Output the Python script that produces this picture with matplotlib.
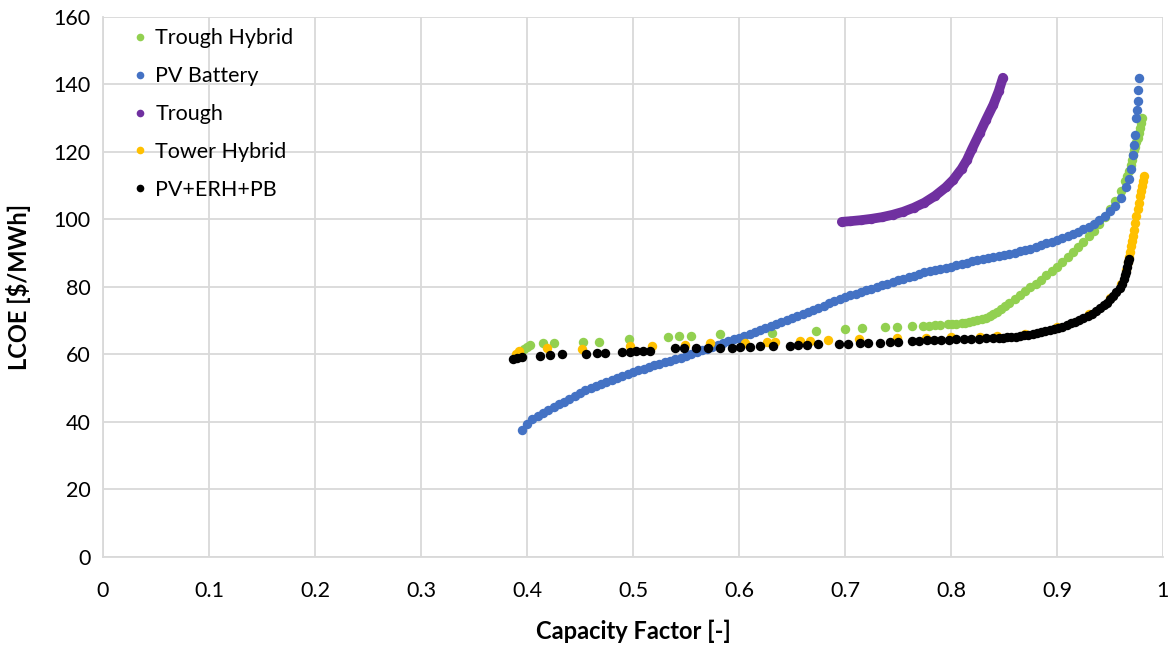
import matplotlib
matplotlib.use("Agg")
from matplotlib import pyplot as plt
from matplotlib.lines import Line2D

# values (capacity factor, LCOE $/MWh)
green_x = [0.393, 0.397, 0.400, 0.403, 0.415, 0.425, 0.453, 0.468, 0.496, 0.533,
           0.543, 0.555, 0.582, 0.631, 0.673, 0.700, 0.716, 0.738, 0.749, 0.763,
           0.774, 0.779, 0.785, 0.790, 0.797, 0.801, 0.805, 0.810, 0.813, 0.817,
           0.821, 0.825, 0.829, 0.833, 0.837, 0.840, 0.843, 0.847, 0.851, 0.855,
           0.860, 0.865, 0.870, 0.875, 0.880, 0.885, 0.890, 0.895, 0.900, 0.905,
           0.910, 0.915, 0.920, 0.925, 0.930, 0.935, 0.940, 0.945, 0.950, 0.955,
           0.960, 0.964, 0.966, 0.968, 0.970, 0.971, 0.972, 0.973, 0.974, 0.975,
           0.976, 0.977, 0.978, 0.979, 0.980]
green_y = [60.8, 61.5, 62.3, 62.9, 63.3, 63.3, 63.6, 63.8, 64.5, 65.3,
           65.5, 65.5, 66.1, 66.5, 67.0, 67.5, 67.7, 68.1, 68.1, 68.3,
           68.4, 68.5, 68.6, 68.7, 68.9, 69.0, 69.1, 69.2, 69.4, 69.6,
           69.8, 70.1, 70.4, 70.8, 71.4, 72.0, 72.7, 73.5, 74.3, 75.2,
           76.3, 77.5, 78.7, 79.9, 81.0, 82.2, 83.5, 84.8, 86.0, 87.5,
           89.0, 90.4, 91.8, 93.4, 95.0, 96.7, 98.6, 100.6, 103.0, 105.5,
           108.5, 111.5, 113.0, 114.5, 116.0, 117.5, 119.0, 120.5, 121.5, 123.0,
           124.0, 125.5, 127.0, 128.5, 130.0]

blue_x = [0.395, 0.400, 0.405, 0.410, 0.415, 0.420, 0.425, 0.430, 0.435, 0.440,
          0.445, 0.450, 0.455, 0.460, 0.465, 0.470, 0.475, 0.480, 0.485, 0.490,
          0.495, 0.500, 0.505, 0.510, 0.515, 0.520, 0.525, 0.530, 0.535, 0.540,
          0.545, 0.550, 0.555, 0.560, 0.565, 0.570, 0.575, 0.580, 0.585, 0.590,
          0.595, 0.600, 0.605, 0.610, 0.615, 0.620, 0.625, 0.630, 0.635, 0.640,
          0.645, 0.650, 0.655, 0.660, 0.665, 0.670, 0.675, 0.680, 0.685, 0.690,
          0.695, 0.700, 0.705, 0.710, 0.715, 0.720, 0.725, 0.730, 0.735, 0.740,
          0.745, 0.750, 0.755, 0.760, 0.765, 0.770, 0.775, 0.780, 0.785, 0.790,
          0.795, 0.800, 0.805, 0.810, 0.815, 0.820, 0.825, 0.830, 0.835, 0.840,
          0.845, 0.850, 0.855, 0.860, 0.865, 0.870, 0.875, 0.880, 0.885, 0.890,
          0.895, 0.900, 0.905, 0.910, 0.915, 0.920, 0.925, 0.930, 0.935, 0.940,
          0.945, 0.950, 0.955, 0.960, 0.965, 0.968, 0.970, 0.972, 0.973, 0.974,
          0.975, 0.9755, 0.976, 0.9765, 0.977]
blue_y = [37.6, 39.5, 40.8, 41.8, 42.7, 43.5, 44.4, 45.2, 46.0, 46.8,
          47.7, 48.5, 49.4, 50.2, 50.8, 51.3, 51.9, 52.5, 53.0, 53.6,
          54.2, 54.8, 55.3, 55.8, 56.3, 56.8, 57.3, 57.7, 58.2, 58.6,
          59.0, 59.5, 60.0, 60.6, 61.2, 61.7, 62.3, 62.8, 63.4, 63.9,
          64.5, 65.0, 65.6, 66.1, 66.7, 67.2, 67.8, 68.3, 69.0, 69.6,
          70.2, 70.9, 71.5, 72.1, 72.7, 73.3, 73.9, 74.5, 75.2, 75.8,
          76.4, 77.0, 77.5, 78.0, 78.5, 79.0, 79.5, 80.0, 80.5, 81.0,
          81.5, 82.0, 82.5, 83.0, 83.4, 83.9, 84.3, 84.7, 85.1, 85.4,
          85.7, 86.0, 86.4, 86.8, 87.2, 87.6, 87.9, 88.2, 88.5, 88.8,
          89.1, 89.5, 89.8, 90.2, 90.6, 91.0, 91.4, 91.9, 92.4, 92.9,
          93.4, 94.0, 94.5, 95.1, 95.7, 96.4, 97.1, 97.9, 98.8, 99.8,
          101.0, 102.5, 104.0, 106.5, 109.5, 112.0, 115.0, 119.0, 122.0, 125.0,
          130.0, 132.5, 135.0, 138.5, 142.0]

purple_x = [0.697, 0.705, 0.715, 0.725, 0.735, 0.745, 0.755, 0.765, 0.775, 0.785,
            0.795, 0.802, 0.810, 0.815, 0.820, 0.827, 0.833, 0.840, 0.845, 0.849]
purple_y = [99.3, 99.5, 99.8, 100.2, 100.7, 101.4, 102.3, 103.5, 105.0, 107.0,
            109.5, 111.7, 115.0, 117.6, 121.0, 125.5, 129.5, 134.0, 138.0, 142.0]

orange_x = [0.390, 0.392, 0.419, 0.452, 0.497, 0.518, 0.549, 0.573, 0.606, 0.626,
            0.634, 0.658, 0.667, 0.684, 0.713, 0.749, 0.776, 0.800, 0.827, 0.843,
            0.870, 0.900, 0.930, 0.950, 0.960, 0.965, 0.967, 0.968, 0.969, 0.970,
            0.971, 0.972, 0.973, 0.974, 0.975, 0.976, 0.977, 0.978, 0.979, 0.980,
            0.981, 0.982]
orange_y = [60.0, 61.0, 61.8, 61.6, 62.5, 62.5, 62.8, 63.3, 63.3, 63.8,
            63.8, 64.1, 64.1, 64.3, 64.6, 64.8, 65.0, 65.1, 65.3, 65.5,
            66.0, 68.0, 72.0, 76.8, 80.8, 85.0, 87.5, 89.0, 90.5, 92.0,
            93.5, 95.0, 97.0, 99.0, 101.0, 103.0, 105.0, 107.0, 108.5, 110.0,
            111.5, 113.0]

black_x = [0.387, 0.391, 0.395, 0.412, 0.422, 0.433, 0.456, 0.466, 0.474, 0.490,
           0.497, 0.503, 0.509, 0.516, 0.540, 0.548, 0.559, 0.571, 0.582, 0.593,
           0.601, 0.610, 0.620, 0.632, 0.648, 0.656, 0.664, 0.675, 0.694, 0.703,
           0.714, 0.722, 0.733, 0.742, 0.750, 0.763, 0.770, 0.777, 0.784, 0.791,
           0.798, 0.805, 0.812, 0.819, 0.826, 0.833, 0.840, 0.845, 0.849, 0.853,
           0.857, 0.861, 0.865, 0.869, 0.873, 0.877, 0.881, 0.885, 0.889, 0.893,
           0.897, 0.901, 0.905, 0.909, 0.913, 0.917, 0.921, 0.925, 0.929, 0.933,
           0.937, 0.941, 0.944, 0.947, 0.950, 0.953, 0.956, 0.959, 0.961, 0.963,
           0.964, 0.965, 0.966, 0.967, 0.9675]
black_y = [58.8, 59.0, 59.3, 59.6, 59.8, 60.1, 60.1, 60.3, 60.5, 60.6,
           60.8, 61.0, 61.1, 61.1, 61.8, 61.8, 61.8, 61.8, 61.9, 62.0,
           62.1, 62.3, 62.4, 62.5, 62.5, 62.7, 62.8, 63.0, 63.0, 63.2,
           63.3, 63.4, 63.5, 63.6, 63.7, 64.0, 64.1, 64.2, 64.3, 64.3,
           64.4, 64.5, 64.6, 64.6, 64.7, 64.8, 64.8, 64.9, 65.0, 65.1,
           65.2, 65.3, 65.5, 65.7, 65.9, 66.1, 66.4, 66.6, 66.9, 67.2,
           67.5, 67.7, 68.2, 68.6, 69.2, 69.6, 70.1, 70.8, 71.4, 72.1,
           72.9, 73.8, 74.6, 75.4, 76.3, 77.3, 78.4, 79.6, 80.8, 82.5,
           83.5, 84.5, 86.0, 87.5, 88.3]

labels = ['Trough Hybrid', 'PV Battery', 'Trough', 'Tower Hybrid', 'PV+ERH+PB']
colors = ['#92D050', '#4472C4', '#7030A0', '#FFC000', '#000000']

x_ticks = [0, 0.1, 0.2, 0.3, 0.4, 0.5, 0.6, 0.7, 0.8, 0.9, 1]
x_tick_labels = ['0', '0.1', '0.2', '0.3', '0.4', '0.5', '0.6', '0.7', '0.8', '0.9', '1']
y_ticks = [0, 20, 40, 60, 80, 100, 120, 140, 160]

plt.rcParams['font.family'] = ['Lato', 'DejaVu Sans']

fig = plt.figure(figsize=(11.72, 6.46), dpi=100)
ax = fig.add_axes([0.0879, 0.1378, 0.9044, 0.8359])

ms = 6.8
series = [(green_x, green_y), (blue_x, blue_y), (purple_x, purple_y),
          (orange_x, orange_y), (black_x, black_y)]
for i, (xs, ys) in enumerate(series):
    if labels[i] == 'Trough':
        # dense dots in the original form a solid thick stroke
        ax.plot(xs, ys, '-', color=colors[i], lw=7, solid_capstyle='round', zorder=3 + i)
    ax.plot(xs, ys, 'o', color=colors[i], ms=ms, mew=0, zorder=3 + i)

ax.set_xlim(0, 1)
ax.set_ylim(0, 160)
ax.set_xticks(x_ticks)
ax.set_xticklabels(x_tick_labels)
ax.set_yticks(y_ticks)
ax.grid(True, color='#D9D9D9', lw=1.3)
ax.set_axisbelow(True)
for s in ['top', 'right']:
    ax.spines[s].set_visible(False)
for s in ['left', 'bottom']:
    ax.spines[s].set_color('#D9D9D9')
    ax.spines[s].set_linewidth(1.3)
ax.tick_params(length=0, labelsize=15.5, colors='#000000')
ax.tick_params(axis='x', pad=17)
ax.tick_params(axis='y', pad=9)

ax.set_xlabel('Capacity Factor [-]', fontsize=17, fontweight='bold', labelpad=14)
ax.set_ylabel('LCOE [$/MWh]', fontsize=17, fontweight='bold', labelpad=16)

handles = [Line2D([], [], ls='none', marker='o', ms=5.5, mew=0, color=c) for c in colors]
ax.legend(handles, labels, loc='upper left', bbox_to_anchor=(0.022, 0.995),
          frameon=False, fontsize=15.5, labelspacing=0.83, handlelength=0.5,
          handletextpad=0.45, borderaxespad=0.0)

fig.savefig('out.png', dpi=100)
